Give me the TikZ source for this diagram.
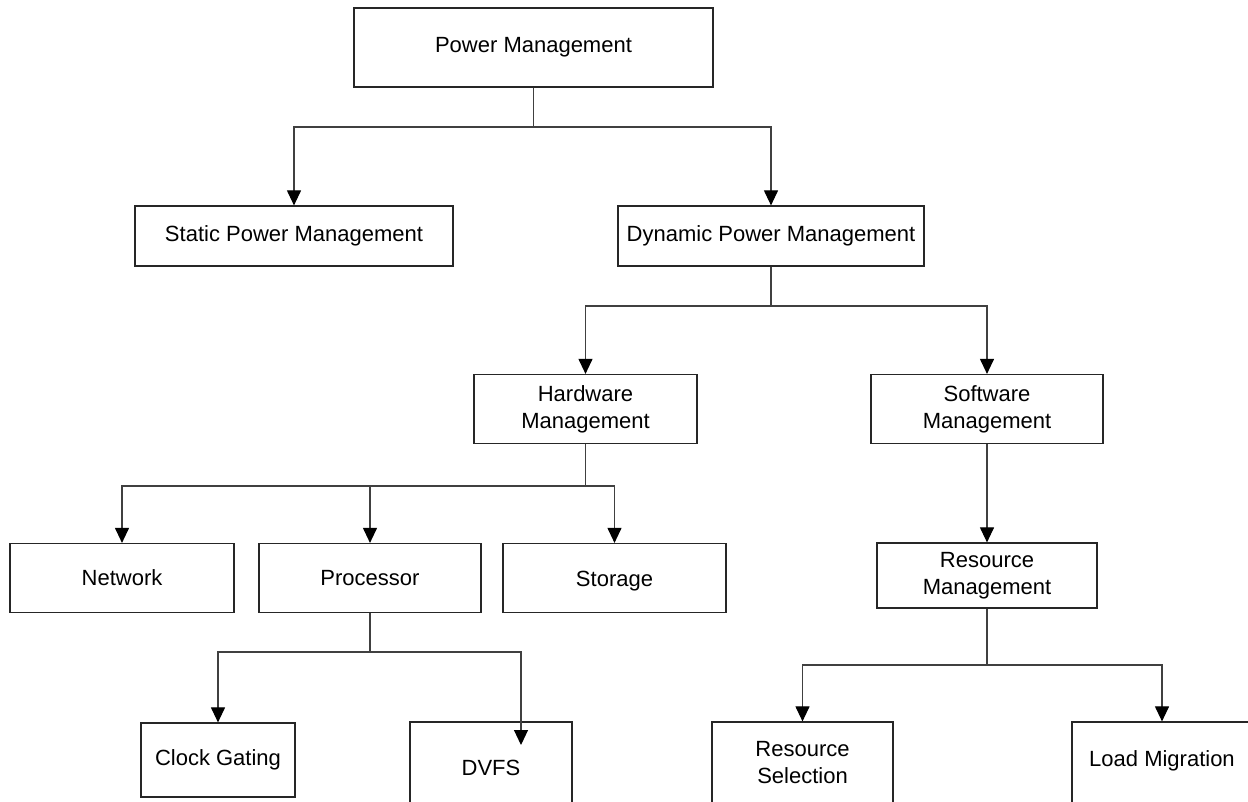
\documentclass[tikz,border=0pt]{standalone}
\usepackage{fontspec}
\setmainfont{Liberation Sans}
\usetikzlibrary{arrows.meta}
\begin{document}
\begin{tikzpicture}[x=1pt,y=-1pt,
  box/.style={draw=black!85, line width=1.2pt, fill=white, align=center, inner sep=0pt,
    font=\fontsize{22}{27}\selectfont},
  link/.style={draw=black!75, line width=1.1pt},
  arr/.style={link, -{Triangle[length=15pt,width=14pt,color=black]}}]
\useasboundingbox (0,0) rectangle (1248,801);
\clip (0,0) rectangle (1248,801);
% boxes, placed by their centres with explicit sizes
\node[box, minimum width=359, minimum height=79] (pm)   at (533.5,47.5)  {Power Management};
\node[box, minimum width=318, minimum height=60] (spm)  at (294,236)     {Static Power Management};
\node[box, minimum width=306, minimum height=60] (dpm)  at (771,236)     {Dynamic Power Management};
\node[box, minimum width=223, minimum height=69] (hw)   at (585.5,409)   {Hardware\\Management};
\node[box, minimum width=232, minimum height=69] (sw)   at (987,409)     {Software\\Management};
\node[box, minimum width=224, minimum height=69] (net)  at (122,578)     {Network};
\node[box, minimum width=222, minimum height=69] (proc) at (370,578)     {Processor};
\node[box, minimum width=223, minimum height=69] (sto)  at (614.5,578)   {\raisebox{-3pt}[\height][\depth]{Storage}};
\node[box, minimum width=220, minimum height=65] (rm)   at (987,575.5)   {Resource\\Management};
\node[box, minimum width=154, minimum height=74] (cg)   at (218,760)     {Clock Gating};
\node[box, minimum width=162, minimum height=92] (dvfs) at (491,768)     {DVFS};
\node[box, minimum width=181, minimum height=82] (rs)   at (802.5,763)   {Resource\\Selection};
\node[box, minimum width=180, minimum height=90] (lm)   at (1162,767)    {\raisebox{6pt}[\height][\depth]{Load Migration}};
% branch points
\coordinate (j1) at (pm.south |- 0,127);
\coordinate (j2) at (dpm.south |- 0,306);
\coordinate (j3) at (hw.south |- 0,486);
\coordinate (j4) at (proc.south |- 0,652);
\coordinate (j5) at (rm.south |- 0,665);
\coordinate (dvtip) at (521,745);
% connectors
\draw[link] (pm.south) -- (j1);
\draw[arr] (j1) -| (spm.north);
\draw[arr] (j1) -| (dpm.north);
\draw[link] (dpm.south) -- (j2);
\draw[arr] (j2) -| (hw.north);
\draw[arr] (j2) -| (sw.north);
\draw[link] (hw.south) -- (j3);
\draw[arr] (j3) -| (net.north);
\draw[arr] (j3) -| (proc.north);
\draw[arr] (j3) -| (sto.north);
\draw[arr] (sw.south) -- (rm.north);
\draw[link] (proc.south) -- (j4);
\draw[arr] (j4) -| (cg.north);
\draw[arr] (j4) -| (dvtip);
\draw[link] (rm.south) -- (j5);
\draw[arr] (j5) -| (rs.north);
\draw[arr] (j5) -| (lm.north);
\end{tikzpicture}
\end{document}
